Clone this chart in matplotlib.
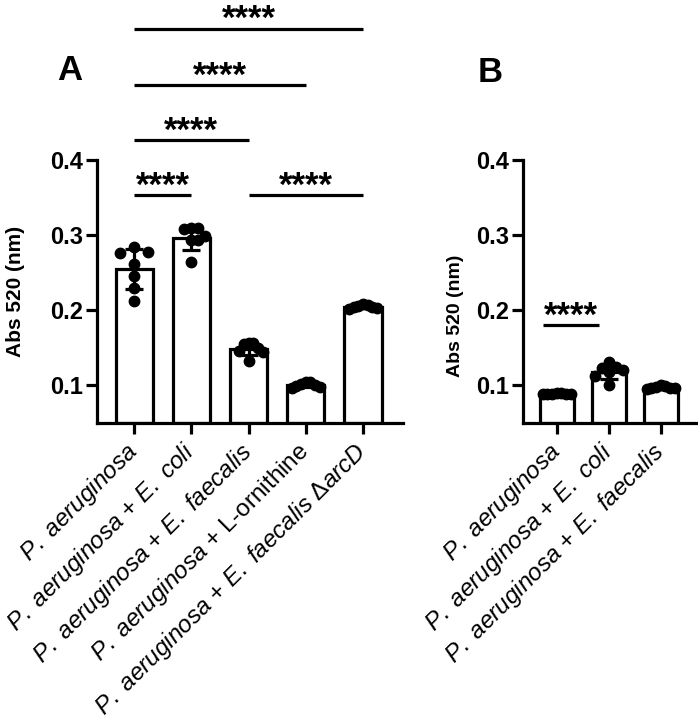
import numpy as np
import matplotlib
matplotlib.use("Agg")
import matplotlib.pyplot as plt

plt.rcParams['font.family'] = ['Liberation Sans', 'DejaVu Sans']
plt.rcParams['mathtext.fontset'] = 'custom'
plt.rcParams['mathtext.rm'] = 'Liberation Sans'
plt.rcParams['mathtext.it'] = 'Liberation Sans:italic'
plt.rcParams['mathtext.bf'] = 'Liberation Sans:bold'

# ---------------- data ----------------
labels_a = [
    r"$\mathit{P.\ aeruginosa}$",
    r"$\mathit{P.\ aeruginosa}$ + $\mathit{E.\ coli}$",
    r"$\mathit{P.\ aeruginosa}$ + $\mathit{E.\ faecalis}$",
    r"$\mathit{P.\ aeruginosa}$ + L-ornithine",
    r"$\mathit{P.\ aeruginosa}$ + $\mathit{E.\ faecalis\ \Delta arcD}$",
]
a_paer = [0.284, 0.276, 0.277, 0.262, 0.246, 0.229, 0.213]
a_ecoli = [0.309, 0.310, 0.308, 0.299, 0.293, 0.294, 0.264]
a_faec = [0.157, 0.155, 0.156, 0.150, 0.146, 0.145, 0.132]
a_orn = [0.105, 0.104, 0.102, 0.101, 0.099, 0.098, 0.097]
a_arcd = [0.208, 0.207, 0.206, 0.205, 0.204, 0.203, 0.202]
groups_a = [a_paer, a_ecoli, a_faec, a_orn, a_arcd]

labels_b = [
    r"$\mathit{P.\ aeruginosa}$",
    r"$\mathit{P.\ aeruginosa}$ + $\mathit{E.\ coli}$",
    r"$\mathit{P.\ aeruginosa}$ + $\mathit{E.\ faecalis}$",
]
b_paer = [0.090, 0.090, 0.089, 0.089, 0.089, 0.088, 0.088]
b_ecoli = [0.131, 0.124, 0.123, 0.120, 0.118, 0.113, 0.100]
b_faec = [0.100, 0.099, 0.098, 0.097, 0.097, 0.096, 0.095]
groups_b = [b_paer, b_ecoli, b_faec]

yticks = [0.1, 0.2, 0.3, 0.4]
ylabel = "Abs 520 (nm)"
sig = "****"
# comparisons: (group i, group j, bracket height)
comps_a = [(0, 1, 0.353), (2, 4, 0.353), (0, 2, 0.426), (0, 3, 0.500), (0, 4, 0.575)]
comps_b = [(0, 1, 0.180)]

# ---------------- figure ----------------
W, H = 698, 720
fig = plt.figure(figsize=(W / 100, H / 100), dpi=100)
axA = fig.add_axes([97 / W, 1 - 423 / H, (403 - 97) / W, (423 - 160) / H])
axB = fig.add_axes([523 / W, 1 - 423 / H, (697 - 523) / W, (423 - 160) / H])

LW = 2.3
BARW = 0.65


def beeswarm(ax, xc, vals, dpix=14, coll=9.5, maxoff=14):
    # arrange points horizontally to avoid overlap (display-space)
    order = np.argsort(vals)[::-1]
    placed = []
    offs = np.zeros(len(vals))
    ys = ax.transData.transform(np.column_stack([np.full(len(vals), xc), vals]))[:, 1]
    for i in order:
        k = 0
        while True:
            cands = [0] if k == 0 else [k * dpix, -k * dpix]
            ok = None
            for c in cands:
                if all(np.hypot(c - px, ys[i] - py) >= coll for px, py in placed):
                    ok = c
                    break
            if ok is not None:
                offs[i] = ok
                placed.append((ok, ys[i]))
                break
            k += 1
    m = np.abs(offs).max()
    if m > maxoff:
        offs = offs * maxoff / m
    x0 = ax.transData.transform((xc, 0))[0]
    xs = ax.transData.inverted().transform(
        np.column_stack([x0 + offs, np.zeros(len(vals))]))[:, 0]
    return xs


def panel(ax, groups, labels, xr, comps, bracket_x=None):
    ax.set_xlim(-0.65, xr)
    ax.set_ylim(0.05, 0.4)
    x = np.arange(len(groups))
    means = [np.mean(g) for g in groups]
    sds = [np.std(g, ddof=1) for g in groups]
    ax.bar(x, [m - 0.05 for m in means], bottom=0.05, width=BARW, color='white',
           edgecolor='black', linewidth=LW, zorder=2)
    ax.errorbar(x, means, yerr=sds, fmt='none', ecolor='black', elinewidth=LW,
                capsize=6.5, capthick=LW, zorder=3)
    for xi, g in zip(x, groups):
        xs = beeswarm(ax, xi, np.array(g))
        ax.plot(xs, g, 'o', color='black', markersize=7.5, zorder=4, clip_on=False)
    for sp in ['top', 'right']:
        ax.spines[sp].set_visible(False)
    for sp in ['left', 'bottom']:
        ax.spines[sp].set_linewidth(LW)
    ax.set_yticks(yticks)
    ax.set_yticklabels([f"{t:.1f}" for t in yticks], fontsize=17, fontweight='bold')
    ax.tick_params(axis='both', length=8, width=LW, pad=2)
    ax.set_xticks(x)
    ax.set_xticklabels(labels, rotation=45, ha='right', va='center',
                       rotation_mode='anchor', fontsize=17.5)
    ax.tick_params(axis='x', pad=10)
    for k, (i, j, yb) in enumerate(comps):
        x1, x2 = (i, j) if bracket_x is None else bracket_x[k]
        ax.plot([x1, x2], [yb, yb], color='black', lw=LW, clip_on=False,
                solid_capstyle='butt')
        ax.text((x1 + x2) / 2, yb + 0.0115, sig, ha='center', va='center',
                fontsize=25, fontweight='bold', clip_on=False)


panel(axA, groups_a, labels_a, 4.70, comps_a)
panel(axB, groups_b, labels_b, 2.70, comps_b, bracket_x=[(-0.26, 0.81)])

fig.text(15.5 / W, 1 - 291 / H, ylabel, rotation=90, ha='center', va='center',
         fontsize=15, fontweight='bold')
fig.text(456 / W, 1 - 316 / H, ylabel, rotation=90, ha='center', va='center',
         fontsize=14, fontweight='bold')
fig.text(70 / W, 1 - 71 / H, "A", ha='center', va='center', fontsize=25, fontweight='bold')
fig.text(490 / W, 1 - 72 / H, "B", ha='center', va='center', fontsize=25, fontweight='bold')

fig.savefig("out.png", dpi=100)
